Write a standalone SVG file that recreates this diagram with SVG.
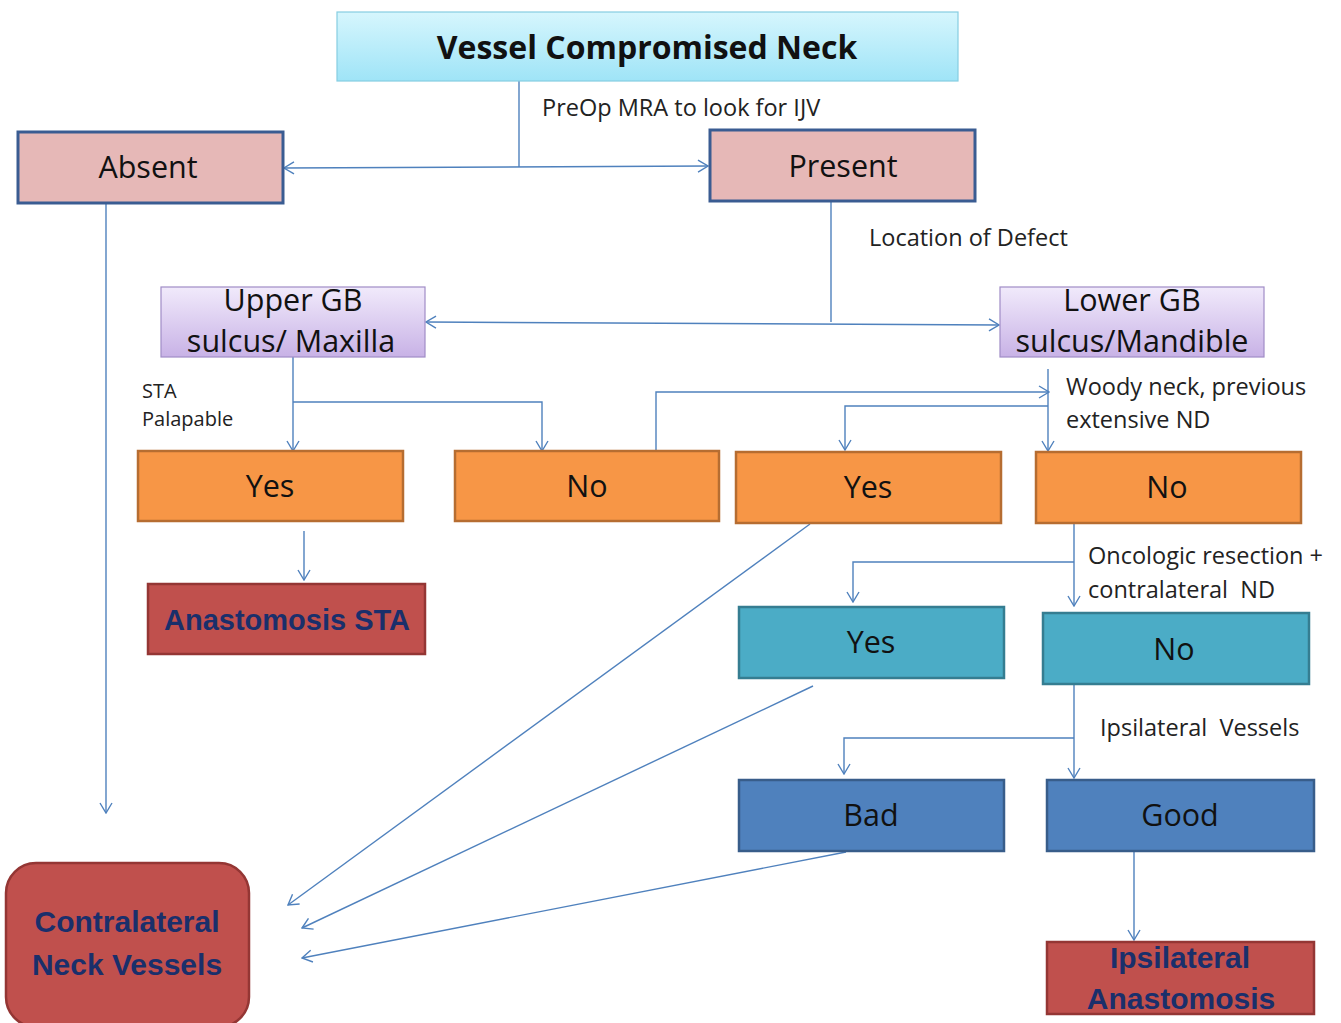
<svg xmlns="http://www.w3.org/2000/svg" width="1341" height="1023" viewBox="0 0 1341 1023">
<style>
.t{font-family:"Open Sans","Liberation Sans",sans-serif;fill:#111;text-anchor:middle;font-size:30.5px}
.lbl{font-family:"Open Sans","Liberation Sans",sans-serif;fill:#222;font-size:23.5px;white-space:pre}
.b{font-family:"Liberation Sans",sans-serif;font-weight:bold;fill:#1a2f6b;text-anchor:middle;font-size:30px}
.c{fill:none;stroke:#4f81bd;stroke-width:1.4}
</style>
<defs>
<linearGradient id="gCyan" x1="0" y1="0" x2="0" y2="1"><stop offset="0" stop-color="#d6f6fd"/><stop offset="1" stop-color="#9fe4f7"/></linearGradient>
<linearGradient id="gPur" x1="0" y1="0" x2="0" y2="1"><stop offset="0" stop-color="#f1eafb"/><stop offset="1" stop-color="#c8b2e6"/></linearGradient>
<marker id="ah" viewBox="0 0 12 14" refX="11" refY="7" markerWidth="12" markerHeight="14" markerUnits="userSpaceOnUse" orient="auto-start-reverse"><path d="M1,1 L11,7 L1,13" fill="none" stroke="#4f81bd" stroke-width="1.4"/></marker>
</defs>

<g id="connectors">
<path class="c" d="M519,81 V167"/>
<path class="c" d="M284,168 L708,166" marker-start="url(#ah)" marker-end="url(#ah)"/>
<path class="c" d="M831,201 V322"/>
<path class="c" d="M426,322 L999,325" marker-start="url(#ah)" marker-end="url(#ah)"/>
<path class="c" d="M106,203 V813" marker-end="url(#ah)"/>
<path class="c" d="M293,357 V451" marker-end="url(#ah)"/>
<path class="c" d="M293,402 H542 V451" marker-end="url(#ah)"/>
<path class="c" d="M1048,369 V451" marker-end="url(#ah)"/>
<path class="c" d="M1048,406 H845 V450" marker-end="url(#ah)"/>
<path class="c" d="M656,451 V392 H1049" marker-end="url(#ah)"/>
<path class="c" d="M304,531 V580" marker-end="url(#ah)"/>
<path class="c" d="M810,524 L288,905" marker-end="url(#ah)"/>
<path class="c" d="M1074,523 V606" marker-end="url(#ah)"/>
<path class="c" d="M1074,562 H853 V602" marker-end="url(#ah)"/>
<path class="c" d="M813,686 L302,928" marker-end="url(#ah)"/>
<path class="c" d="M1074,684 V778" marker-end="url(#ah)"/>
<path class="c" d="M1074,738 H844 V774" marker-end="url(#ah)"/>
<path class="c" d="M846,852 L302,958" marker-end="url(#ah)"/>
<path class="c" d="M1134,851 V940" marker-end="url(#ah)"/>
</g>

<g id="labels">
<text class="lbl" x="542" y="116">PreOp MRA to look for IJV</text>
<text class="lbl" x="869" y="246">Location of Defect</text>
<text class="lbl" x="142" y="398" style="font-size:20px">STA</text>
<text class="lbl" x="142" y="426" style="font-size:20px">Palapable</text>
<text class="lbl" x="1066" y="395">Woody neck, previous</text>
<text class="lbl" x="1066" y="428">extensive ND</text>
<text class="lbl" x="1088" y="564">Oncologic resection +</text>
<text class="lbl" x="1088" y="598">contralateral  ND</text>
<text class="lbl" x="1100" y="736">Ipsilateral  Vessels</text>
</g>

<g id="n-top">
<rect x="337" y="12" width="621" height="69" fill="url(#gCyan)" stroke="#86cde2" stroke-width="1.2"/>
<text class="t" x="647" y="59" style="font-weight:bold;font-size:32px">Vessel Compromised Neck</text>
</g>
<g id="n-absent">
<rect x="18" y="132" width="265" height="71" fill="#e6b8b7" stroke="#3a5c92" stroke-width="3"/>
<text class="t" x="148" y="178">Absent</text>
</g>
<g id="n-present">
<rect x="710" y="130" width="265" height="71" fill="#e6b8b7" stroke="#3a5c92" stroke-width="3"/>
<text class="t" x="843" y="177">Present</text>
</g>
<g id="n-upper">
<rect x="161" y="287" width="264" height="70" fill="url(#gPur)" stroke="#a08cc6" stroke-width="1.2"/>
<text class="t" x="293" y="311">Upper GB</text>
<text class="t" x="291" y="352">sulcus/ Maxilla</text>
</g>
<g id="n-lower">
<rect x="1000" y="287" width="264" height="70" fill="url(#gPur)" stroke="#a08cc6" stroke-width="1.2"/>
<text class="t" x="1132" y="311">Lower GB</text>
<text class="t" x="1132" y="352">sulcus/Mandible</text>
</g>
<g id="n-yes1">
<rect x="138" y="451" width="265" height="70" fill="#f79646" stroke="#b66d31" stroke-width="2.5"/>
<text class="t" x="270" y="497">Yes</text>
</g>
<g id="n-no1">
<rect x="455" y="451" width="264" height="70" fill="#f79646" stroke="#b66d31" stroke-width="2.5"/>
<text class="t" x="587" y="497">No</text>
</g>
<g id="n-yes2">
<rect x="736" y="452" width="265" height="71" fill="#f79646" stroke="#b66d31" stroke-width="2.5"/>
<text class="t" x="868" y="498">Yes</text>
</g>
<g id="n-no2">
<rect x="1036" y="452" width="265" height="71" fill="#f79646" stroke="#b66d31" stroke-width="2.5"/>
<text class="t" x="1167" y="498">No</text>
</g>
<g id="n-sta">
<rect x="148" y="584" width="277" height="70" fill="#c0504d" stroke="#943634" stroke-width="2.5"/>
<text class="b" x="287" y="630" style="font-size:29px">Anastomosis STA</text>
</g>
<g id="n-yes3">
<rect x="739" y="607" width="265" height="71" fill="#4bacc6" stroke="#357d91" stroke-width="2.5"/>
<text class="t" x="871" y="653">Yes</text>
</g>
<g id="n-no3">
<rect x="1043" y="613" width="266" height="71" fill="#4bacc6" stroke="#357d91" stroke-width="2.5"/>
<text class="t" x="1174" y="660">No</text>
</g>
<g id="n-bad">
<rect x="739" y="780" width="265" height="71" fill="#4f81bd" stroke="#385d8a" stroke-width="2.5"/>
<text class="t" x="871" y="826">Bad</text>
</g>
<g id="n-good">
<rect x="1047" y="780" width="267" height="71" fill="#4f81bd" stroke="#385d8a" stroke-width="2.5"/>
<text class="t" x="1180" y="826">Good</text>
</g>
<g id="n-ipsi">
<rect x="1047" y="942" width="267" height="72" fill="#c0504d" stroke="#943634" stroke-width="2.5"/>
<text class="b" x="1180" y="968">Ipsilateral</text>
<text class="b" x="1181" y="1009">Anastomosis</text>
</g>
<g id="n-contra">
<rect x="6" y="863" width="243" height="164" rx="30" ry="30" fill="#c0504d" stroke="#943634" stroke-width="2.5"/>
<text class="b" x="127" y="932">Contralateral</text>
<text class="b" x="127" y="975">Neck Vessels</text>
</g>
</svg>
